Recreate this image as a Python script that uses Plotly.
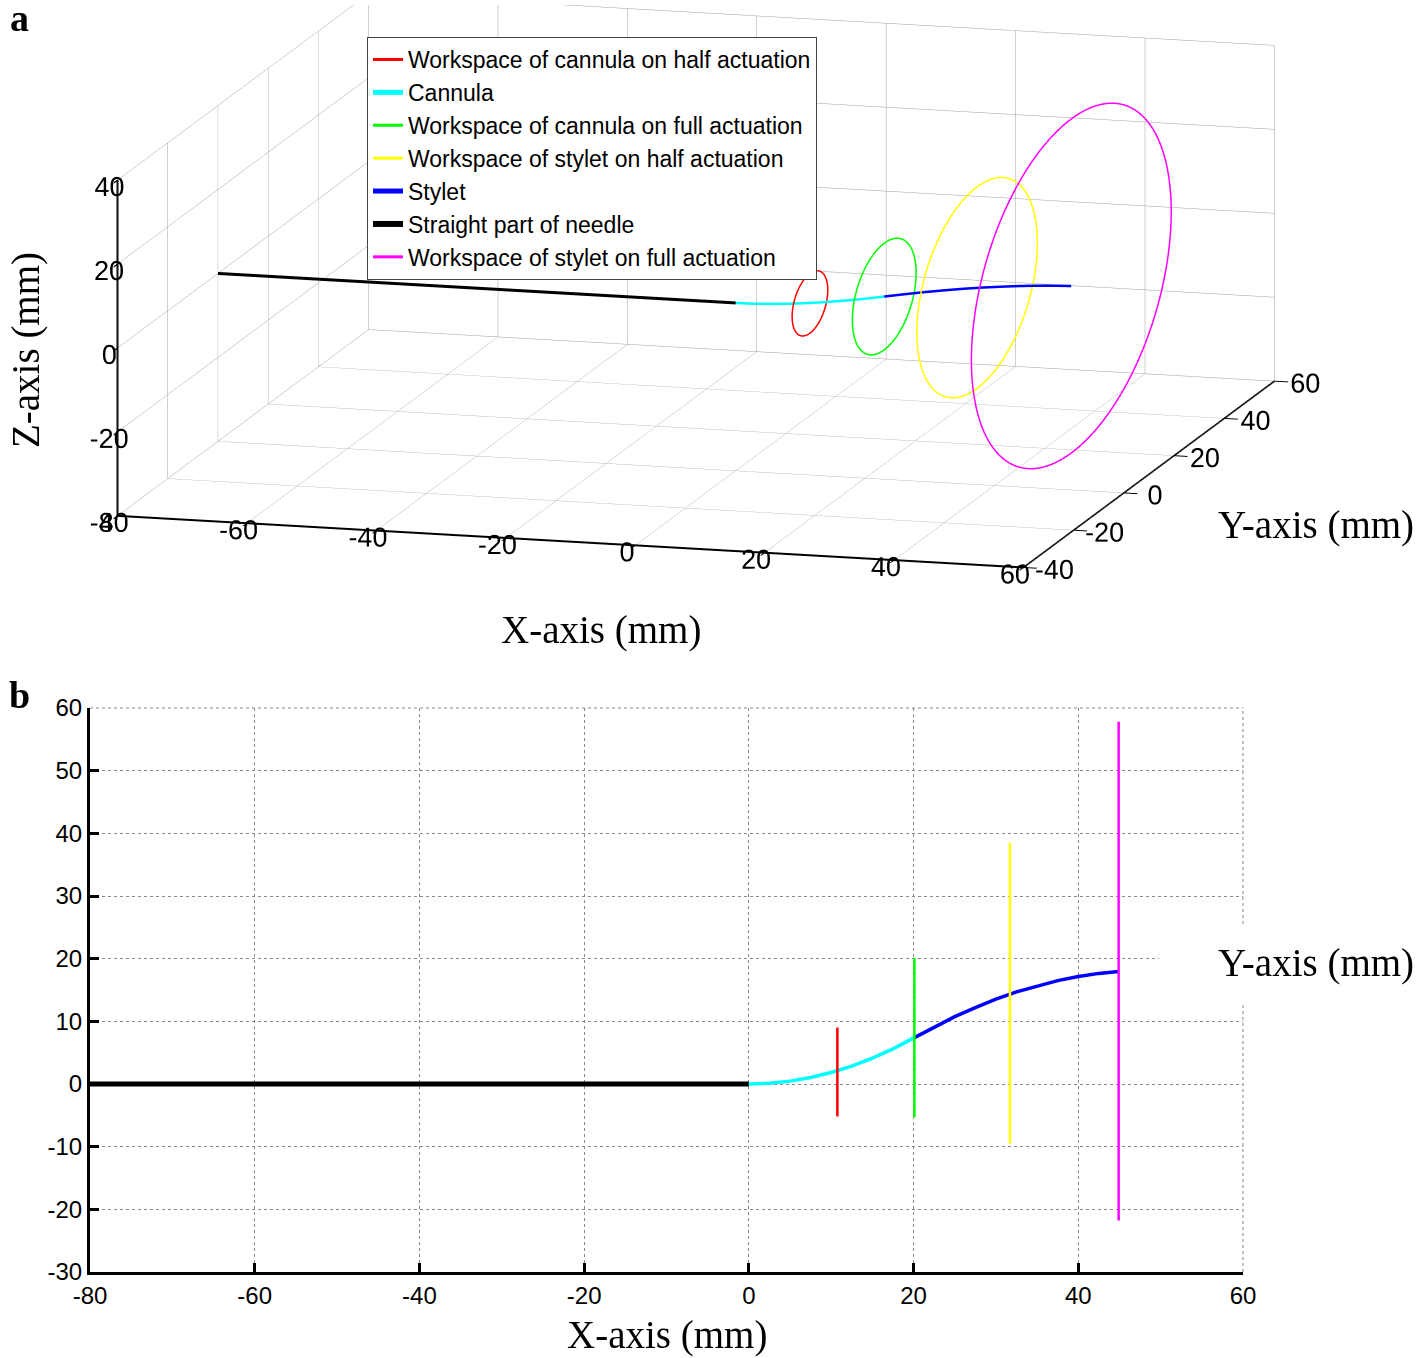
import numpy as np
import plotly.graph_objects as go

# ---------------- data (mm) ----------------
straight_x = [-80, 0]
straight_y = [0, 0]

cannula_x = [0, 2.5, 5, 7.5, 10, 12.5, 15, 17.5, 20.1]
cannula_y = [0, 0.11, 0.46, 1.03, 1.83, 2.86, 4.12, 5.6, 7.4]

stylet_x = [20.1, 22.5, 25, 27.5, 30, 32.5, 35, 37.5, 40, 42.5, 44.9]
stylet_y = [7.4, 9.1, 10.75, 12.2, 13.55, 14.7, 15.65, 16.5, 17.15, 17.65, 17.95]

# workspace circles (lie in planes x = const): centre y, radius
ws_names = ["Workspace of cannula on half actuation",
            "Workspace of cannula on full actuation",
            "Workspace of stylet on half actuation",
            "Workspace of stylet on full actuation"]
ws_colors = ["#ff0000", "#00ff00", "#ffff00", "#ff00ff"]
ws_x = [10.75, 20.1, 31.7, 44.9]
ws_yc = [1.9, 7.4, 14.5, 18.0]
ws_r = [7.1, 12.7, 24.0, 39.8]

x_ticks = [-80, -60, -40, -20, 0, 20, 40, 60]
y3_ticks = [-40, -20, 0, 20, 40, 60]
z_ticks = [-40, -20, 0, 20, 40]
y2_ticks = [-30, -20, -10, 0, 10, 20, 30, 40, 50, 60]

W, H = 1416, 1358
SANS = "Liberation Sans, Arial, sans-serif"
SERIF = "Liberation Serif, Times New Roman, serif"

t = np.linspace(0, 2 * np.pi, 181)


def circle(i):
    xs = np.full_like(t, ws_x[i])
    ys = ws_yc[i] + ws_r[i] * np.cos(t)
    zs = ws_r[i] * np.sin(t)
    return xs, ys, zs


def labels(vals):
    return [str(v) for v in vals]


fig = go.Figure()

def add3d(x, y, z, name, color, width):
    fig.add_trace(go.Scatter3d(x=x, y=y, z=z, mode="lines", name=name,
                               line=dict(color=color, width=width),
                               hoverinfo="skip"))

cx, cy, cz = circle(0)
add3d(cx, cy, cz, ws_names[0], ws_colors[0], 3)
add3d(cannula_x, cannula_y, [0] * len(cannula_x), "Cannula", "#00ffff", 5)
cx, cy, cz = circle(1)
add3d(cx, cy, cz, ws_names[1], ws_colors[1], 3)
cx, cy, cz = circle(2)
add3d(cx, cy, cz, ws_names[2], ws_colors[2], 3)
add3d(stylet_x, stylet_y, [0] * len(stylet_x), "Stylet", "#0000ff", 5)
add3d(straight_x, straight_y, [0, 0], "Straight part of needle", "#000000", 6)
cx, cy, cz = circle(3)
add3d(cx, cy, cz, ws_names[3], ws_colors[3], 3)

def add2d(x, y, color, width):
    fig.add_trace(go.Scatter(x=x, y=y, mode="lines", showlegend=False,
                             line=dict(color=color, width=width),
                             hoverinfo="skip", xaxis="x", yaxis="y"))

add2d(straight_x, straight_y, "#000000", 5)
add2d(cannula_x, cannula_y, "#00ffff", 3.5)
add2d(stylet_x, stylet_y, "#0000ff", 3.5)
for i in range(4):
    cx, cy, cz = circle(i)
    add2d(cx, cy, ws_colors[i], 2.5)

ax3 = dict(showgrid=True, gridcolor="#a0a0a0", gridwidth=1,
           showline=True, linecolor="black", linewidth=4,
           ticks="outside", ticklen=14, tickwidth=3, tickcolor="black",
           showbackground=False, zeroline=False, showspikes=False,
           tickangle=0,
           tickfont=dict(family=SANS, size=18, color="black"),
           title=dict(text=""))

S = 2.97
ZR = 0.365
r = 8.0
eye = np.array([0.261, -0.942, 0.189])
eye = eye / np.linalg.norm(eye) * r

X0, X1 = 90 / W, 1243 / W
Y0, Y1 = 1 - 1272 / H, 1 - 708 / H

fig.update_layout(
    width=W, height=H,
    margin=dict(l=0, r=0, t=0, b=0, autoexpand=False),
    paper_bgcolor="white", plot_bgcolor="white",
    font=dict(family=SANS, size=22, color="black"),
    hovermode=False,
    scene=dict(
        domain=dict(x=[0.042, 0.942], y=[0.53, 0.996]),
        aspectmode="manual",
        aspectratio=dict(x=S, y=S, z=ZR * S),
        camera=dict(projection=dict(type="orthographic"),
                    eye=dict(x=eye[0], y=eye[1], z=eye[2]),
                    up=dict(x=0, y=0, z=1), center=dict(x=0, y=0, z=-0.132)),
        xaxis=dict(ax3, range=[-80, 60], tickvals=x_ticks, ticktext=labels(x_ticks)),
        yaxis=dict(ax3, range=[-40, 60], tickvals=y3_ticks, ticktext=labels(y3_ticks)),
        zaxis=dict(ax3, range=[-40, 40], tickvals=z_ticks, ticktext=labels(z_ticks)),
    ),
    xaxis=dict(domain=[X0, X1], anchor="y", range=[-80, 60], automargin=False,
               tickvals=x_ticks, ticktext=labels(x_ticks), showgrid=True,
               gridcolor="#8a8a8a", griddash="dot", gridwidth=1, zeroline=False,
               showline=True, linecolor="black", linewidth=3,
               ticks="inside", ticklen=9, tickwidth=3, tickcolor="black",
               tickfont=dict(family=SANS, size=24)),
    yaxis=dict(domain=[Y0, Y1], anchor="x", range=[-30, 60], automargin=False,
               tickvals=y2_ticks, ticktext=labels(y2_ticks), showgrid=True,
               gridcolor="#8a8a8a", griddash="dot", gridwidth=1, zeroline=False,
               showline=True, linecolor="black", linewidth=3,
               ticks="inside", ticklen=9, tickwidth=3, tickcolor="black",
               tickfont=dict(family=SANS, size=24)),
    legend=dict(x=367 / W, y=1 - 37 / H, xanchor="left", yanchor="top",
                bordercolor="#444444", borderwidth=1, bgcolor="white",
                font=dict(family=SANS, size=23, color="black"),
                tracegroupgap=0, itemwidth=30),
    shapes=[
        dict(type="line", xref="paper", yref="paper", x0=X0, x1=X1, y0=Y1, y1=Y1,
             line=dict(color="#8a8a8a", width=1, dash="dot"), layer="below"),
        dict(type="line", xref="paper", yref="paper", x0=X1, x1=X1, y0=Y0, y1=Y1,
             line=dict(color="#8a8a8a", width=1, dash="dot"), layer="below"),
        dict(type="rect", xref="paper", yref="paper",
             x0=1159 / W, x1=1.0, y0=1 - 1002 / H, y1=1 - 924 / H,
             fillcolor="white", line=dict(width=0), layer="above"),
    ],
)

def ann(text, px, py, size=39, bold=False, angle=0, xanchor="center"):
    fig.add_annotation(text=("<b>%s</b>" % text) if bold else text,
                       x=px / W, y=1 - py / H, xref="paper", yref="paper",
                       showarrow=False, textangle=angle, xanchor=xanchor,
                       yanchor="middle",
                       font=dict(family=SERIF, size=size, color="black"))

ann("a", 19, 18, size=38, bold=True)
ann("b", 19, 695, size=38, bold=True)
ann("X-axis (mm)", 601, 630)
ann("Y-axis (mm)", 1316, 525)
ann("Z-axis (mm)", 26, 350, angle=-90)
ann("X-axis (mm)", 667, 1335)
ann("Y-axis (mm)", 1316, 963)

fig.write_html("out.html", config={"displayModeBar": False},
               post_script="document.body.style.margin='0px';document.body.style.overflow='hidden';")
